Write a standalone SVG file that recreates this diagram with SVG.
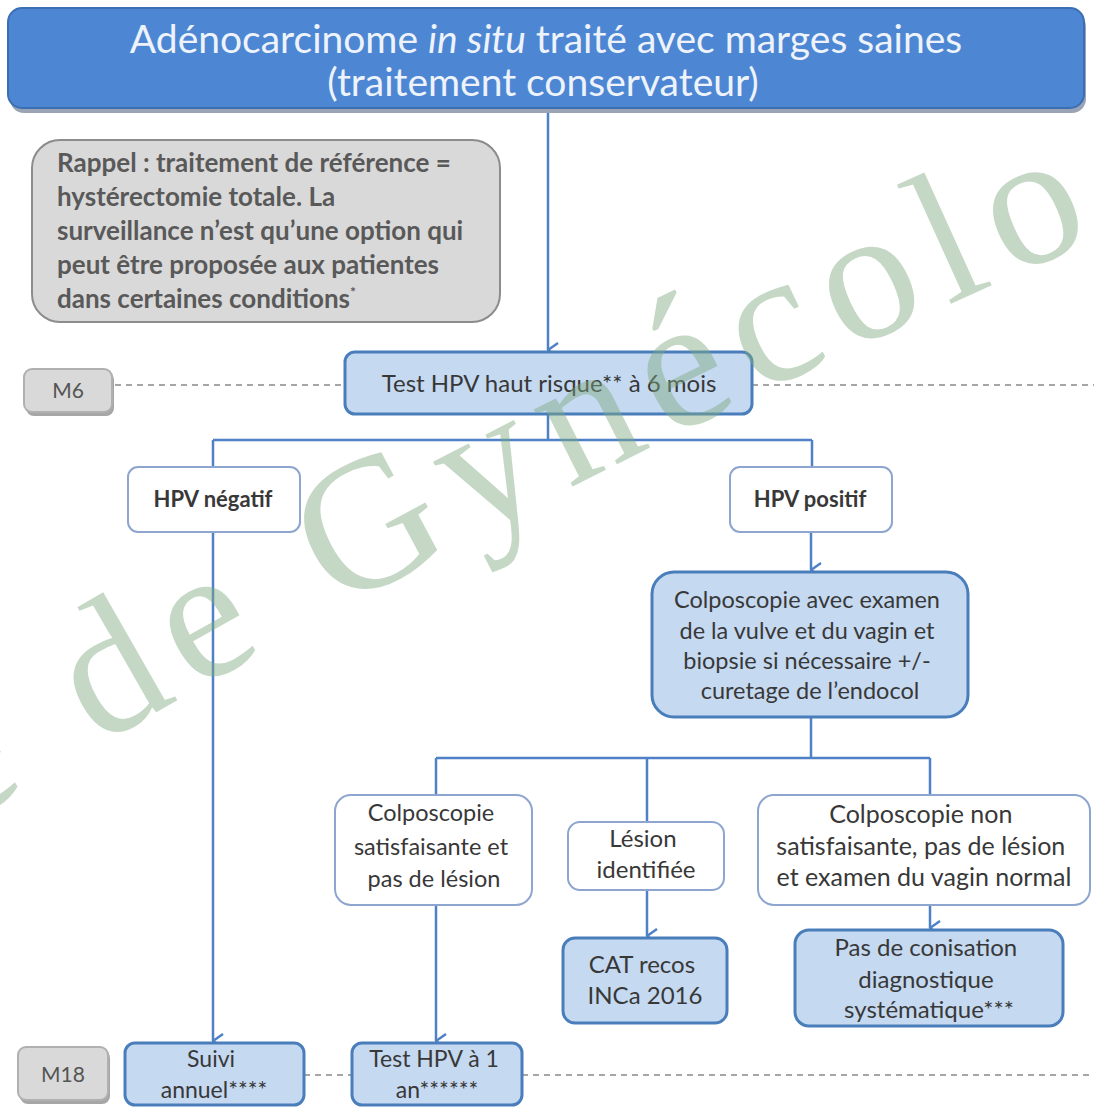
<svg xmlns="http://www.w3.org/2000/svg" width="1094" height="1108" viewBox="0 0 1094 1108">
<defs>
<style>
.t{font-family:Lato,"Open Sans","Liberation Sans",sans-serif;fill:#383838;text-anchor:middle}
.b{font-weight:bold}
.blue{fill:#c5d9f1;stroke:#4a7ebb;stroke-width:3}
.white{fill:#fff;stroke:#8ea6cf;stroke-width:2}
.gray{fill:#d9d9d9;stroke:#8c8c8c;stroke-width:2}
.con{fill:none;stroke:#4f81c7;stroke-width:2.5}
.dash{fill:none;stroke:#a6a6a6;stroke-width:2;stroke-dasharray:6 5}
</style>
<marker id="arr" viewBox="0 0 16 12" refX="8" refY="11" markerWidth="16" markerHeight="12" markerUnits="userSpaceOnUse" orient="auto-start-reverse">
<path d="M1,1 L8,11 L15,1" fill="none" stroke="#4f81c7" stroke-width="2.5"/>
</marker>
<path id="wmpath" d="M-43,829 Q567,462 1200,194" fill="none"/>
</defs>
<rect width="1094" height="1108" fill="#fff"/>

<g id="timeline">
<path class="dash" d="M115,385 H345 M752,385 H1094 M304,1075 H352 M522,1075 H1094"/>
</g>

<g id="connectors">
<path class="con" d="M548,110 V350" marker-end="url(#arr)"/>
<path class="con" d="M548,414 V440 M213,440 H812 M213,440 V467 M812,440 V467"/>
<path class="con" d="M213,532 V1041" marker-end="url(#arr)"/>
<path class="con" d="M811,532 V570" marker-end="url(#arr)"/>
<path class="con" d="M811,717 V758 M436,758 H930 M436,758 V795 M647,758 V822 M930,758 V795"/>
<path class="con" d="M436,905 V1041" marker-end="url(#arr)"/>
<path class="con" d="M647,890 V936" marker-end="url(#arr)"/>
<path class="con" d="M930,905 V928" marker-end="url(#arr)"/>
</g>

<g id="title">
<rect x="10" y="13" width="1076" height="100" rx="14" fill="#9aa4b4"/>
<rect x="8" y="8" width="1076" height="100" rx="14" fill="#4d87d3" stroke="#3b6fb3" stroke-width="2"/>
<text class="t" x="546" y="53" font-size="39" style="fill:#eef3fb">Adénocarcinome <tspan font-style="italic">in situ</tspan> traité avec marges saines</text>
<text class="t" x="543" y="96" font-size="39" style="fill:#eef3fb">(traitement conservateur)</text>
</g>

<g id="rappel">
<rect x="32" y="140" width="468" height="182" rx="28" class="gray"/>
<text class="t b" font-size="26" style="text-anchor:start;fill:#595959">
<tspan x="57" y="172">Rappel : traitement de référence =</tspan>
<tspan x="57" y="206">hystérectomie totale. La</tspan>
<tspan x="57" y="240">surveillance n’est qu’une option qui</tspan>
<tspan x="57" y="274">peut être proposée aux patientes</tspan>
<tspan x="57" y="308">dans certaines conditions<tspan font-size="14" dy="-11">*</tspan></tspan>
</text>
</g>

<g id="m6">
<rect x="26" y="372" width="88" height="44" rx="8" fill="#a6a6a6"/>
<rect x="24" y="369" width="88" height="43" rx="8" class="gray" style="stroke:#b0b0b0"/>
<text class="t" x="68" y="398" font-size="21" style="fill:#555">M6</text>
</g>

<g id="test-hpv-6">
<rect x="345" y="352" width="407" height="62" rx="10" class="blue"/>
<text class="t" x="549" y="392" font-size="24">Test HPV haut risque**  à 6 mois</text>
</g>

<g id="hpv-negatif">
<rect x="128" y="467" width="172" height="65" rx="10" class="white"/>
<text class="t b" x="213" y="507" font-size="22">HPV négatif</text>
</g>

<g id="hpv-positif">
<rect x="730" y="467" width="162" height="65" rx="10" class="white"/>
<text class="t b" x="810" y="507" font-size="22">HPV positif</text>
</g>

<g id="colposcopie">
<rect x="652" y="572" width="316" height="145" rx="22" class="blue"/>
<text class="t" font-size="23.5">
<tspan x="810" y="608">Colposcopie avec examen</tspan>
<tspan x="810" y="639">de la vulve et du vagin et</tspan>
<tspan x="810" y="669">biopsie si nécessaire +/-</tspan>
<tspan x="810" y="699">curetage de l’endocol</tspan>
</text>
</g>

<g id="colpo-satisfaisante">
<rect x="335" y="795" width="197" height="110" rx="16" class="white"/>
<text class="t" font-size="23.5">
<tspan x="434" y="821">Colposcopie</tspan>
<tspan x="434" y="855">satisfaisante et</tspan>
<tspan x="434" y="887">pas de lésion</tspan>
</text>
</g>

<g id="lesion-identifiee">
<rect x="568" y="822" width="156" height="68" rx="12" class="white"/>
<text class="t" font-size="24">
<tspan x="646" y="847">Lésion</tspan>
<tspan x="646" y="878">identifiée</tspan>
</text>
</g>

<g id="colpo-non-satisfaisante">
<rect x="758" y="795" width="332" height="110" rx="16" class="white"/>
<text class="t" font-size="25">
<tspan x="924" y="823">Colposcopie non</tspan>
<tspan x="924" y="855">satisfaisante, pas de lésion</tspan>
<tspan x="924" y="886">et examen du vagin normal</tspan>
</text>
</g>

<g id="cat-recos">
<rect x="563" y="938" width="164" height="85" rx="12" class="blue"/>
<text class="t" font-size="24">
<tspan x="645" y="973">CAT recos</tspan>
<tspan x="645" y="1004">INCa 2016</tspan>
</text>
</g>

<g id="pas-de-conisation">
<rect x="795" y="930" width="268" height="96" rx="14" class="blue"/>
<text class="t" font-size="24">
<tspan x="929" y="956">Pas de conisation</tspan>
<tspan x="929" y="988">diagnostique</tspan>
<tspan x="929" y="1018">systématique***</tspan>
</text>
</g>

<g id="m18">
<rect x="20" y="1050" width="90" height="54" rx="8" fill="#a6a6a6"/>
<rect x="18" y="1047" width="90" height="53" rx="8" class="gray" style="stroke:#b0b0b0"/>
<text class="t" x="63" y="1082" font-size="21" style="fill:#555">M18</text>
</g>

<g id="suivi-annuel">
<rect x="125" y="1043" width="179" height="62" rx="10" class="blue"/>
<text class="t" font-size="23">
<tspan x="214" y="1067">Suivi</tspan>
<tspan x="214" y="1098">annuel****</tspan>
</text>
</g>

<g id="test-hpv-1an">
<rect x="352" y="1043" width="170" height="62" rx="10" class="blue"/>
<text class="t" font-size="23">
<tspan x="437" y="1067">Test HPV à 1</tspan>
<tspan x="437" y="1098">an******</tspan>
</text>
</g>

<g id="watermark">
<text font-family="'Liberation Serif',serif" font-size="188" letter-spacing="16.5" fill="#7fa97f" opacity="0.45"><textPath href="#wmpath">e de Gynécolo</textPath></text>
</g>
</svg>
